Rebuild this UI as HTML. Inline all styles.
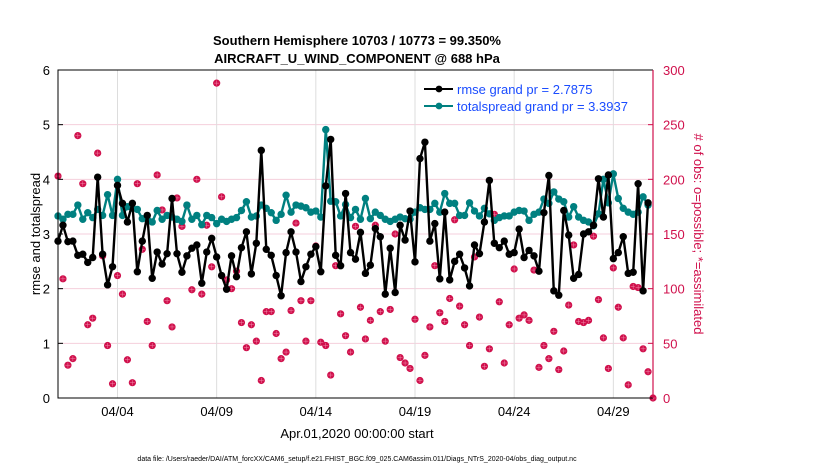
<!DOCTYPE html>
<html><head><meta charset="utf-8"><style>
body{margin:0;background:#fff;font-family:"Liberation Sans",Arial,sans-serif}
svg text{font-family:"Liberation Sans",Arial,sans-serif}
</style></head><body>
<svg id="c" width="830" height="470" viewBox="0 0 830 470">
<text x="357" y="45" text-anchor="middle" font-size="13" font-weight="bold">Southern Hemisphere 10703 / 10773 = 99.350%</text>
<text x="357" y="63" text-anchor="middle" font-size="13" font-weight="bold">AIRCRAFT_U_WIND_COMPONENT @ 688 hPa</text>
<g id="grid"></g><g id="obs"></g><g id="series"></g><g id="axes"></g>
<text transform="translate(40,234) rotate(-90)" text-anchor="middle" font-size="13">rmse and totalspread</text>
<text transform="translate(694,234) rotate(90)" text-anchor="middle" font-size="13" fill="#d0104c"># of obs: o=possible; *=assimilated</text>
<text x="357" y="438" text-anchor="middle" font-size="13">Apr.01,2020 00:00:00 start</text>
<text x="357" y="461" text-anchor="middle" font-size="7">data file: /Users/raeder/DAI/ATM_forcXX/CAM6_setup/f.e21.FHIST_BGC.f09_025.CAM6assim.011/Diags_NTrS_2020-04/obs_diag_output.nc</text>
<g>
<line x1="424" y1="89" x2="453" y2="89" stroke="#000" stroke-width="2"/><circle cx="439" cy="89" r="3.4" fill="#000"/>
<text x="457" y="94" font-size="13" fill="#1a4cff">rmse grand pr = 2.7875</text>
<line x1="424" y1="106" x2="453" y2="106" stroke="#008080" stroke-width="2"/><circle cx="439" cy="106" r="3.4" fill="#008080"/>
<text x="457" y="111" font-size="13" fill="#1a4cff">totalspread grand pr = 3.3937</text>
</g>
</svg>
<script>
const rmse=[2.87,3.16,2.86,2.87,2.61,2.63,2.48,2.57,4.04,2.63,2.07,2.40,3.89,3.56,3.22,3.56,2.31,2.87,3.34,2.19,2.67,2.45,2.64,3.65,2.64,2.30,2.60,2.74,2.80,2.10,2.67,
2.92,2.58,2.24,1.99,2.60,2.22,2.75,3.04,2.27,2.83,4.53,2.72,2.61,2.24,1.87,2.66,3.04,2.67,2.13,2.40,2.63,2.77,2.31,3.88,4.73,2.61,2.42,3.74,2.66,2.54,
3.03,2.28,2.43,3.10,2.95,1.90,2.74,1.93,3.16,2.89,3.42,2.49,4.38,4.68,2.87,3.19,2.18,3.40,2.16,2.50,2.63,2.38,2.05,2.80,2.64,3.22,3.98,2.83,2.75,2.87,
2.63,2.66,3.09,2.57,2.70,2.60,2.32,3.39,4.07,1.96,1.88,3.43,2.98,2.19,2.26,3.00,3.04,3.16,4.01,3.31,4.08,2.55,2.66,2.95,2.28,2.30,3.92,1.96,3.57];
const spread=[3.33,3.27,3.36,3.36,3.53,3.27,3.39,3.30,3.45,3.34,3.72,3.34,4.00,3.34,3.50,3.47,3.45,3.28,3.27,3.22,3.43,3.27,3.34,3.31,3.27,3.23,3.53,3.27,3.34,3.17,3.34,
3.30,3.19,3.27,3.23,3.27,3.30,3.43,3.59,3.31,3.33,3.53,3.47,3.39,3.25,3.36,3.71,3.40,3.53,3.51,3.48,3.40,3.42,3.31,4.91,3.60,3.59,3.33,3.54,3.30,3.45,
3.27,3.65,3.28,3.40,3.34,3.27,3.23,3.27,3.31,3.28,3.27,3.40,3.48,3.45,3.45,3.56,3.40,3.74,3.56,3.56,3.34,3.34,3.57,3.42,3.33,3.47,3.37,3.25,3.30,3.33,
3.33,3.40,3.43,3.42,3.25,3.36,3.40,3.64,3.56,3.77,3.64,3.59,3.31,3.50,3.31,3.25,3.22,3.15,3.37,4.00,3.57,4.10,3.65,3.47,3.40,3.36,3.40,3.68,3.53];
const obsCount=[203,109,30,36,240,196,67,73,224,130,48,13,112,95,35,14,196,136,70,48,204,172,89,65,183,157,176,99,200,95,158,
120,288,184,108,100,116,69,46,67,52,16,79,79,59,36,42,80,160,89,52,89,139,51,48,21,121,77,57,42,157,
83,54,71,158,79,52,81,150,37,32,27,72,16,39,65,121,78,70,91,163,84,67,48,129,74,29,45,168,88,32,
67,118,73,76,71,117,28,48,36,61,26,43,85,140,70,69,71,148,90,55,27,119,83,55,12,102,101,45,24,0];
const yTicks=[0,1,2,3,4,5,6];
const rTicks=[0,50,100,150,200,250,300];
const xTickDays=[3,8,13,18,23,28];
const xTickLabels=["04/04","04/09","04/14","04/19","04/24","04/29"];
const stepDays=0.25;
const L=58,R=653,T=70,B=398,NS="http://www.w3.org/2000/svg";
const X=d=>L+d*(R-L)/30, Y=v=>B-v*(B-T)/6, YR=c=>B-c*(B-T)/300;
function mk(t,a,p){const e=document.createElementNS(NS,t);for(const k in a)e.setAttribute(k,a[k]);p.appendChild(e);return e;}
const g=document.getElementById('grid'),ob=document.getElementById('obs'),se=document.getElementById('series'),ax=document.getElementById('axes');
yTicks.forEach(v=>{if(v>0&&v<6){const l=mk('line',{x1:L,x2:R,y1:Y(v),y2:Y(v),stroke:'#f5cfdc','stroke-width':1},g);

}
const t=mk('text',{x:L-8,y:Y(v)+5,'text-anchor':'end','font-size':13},ax);t.textContent=v;


mk('line',{x1:L,x2:L+5,y1:Y(v),y2:Y(v),stroke:'#000'},ax);});
rTicks.forEach(c=>{const t=mk('text',{x:R+10,y:YR(c)+5,'font-size':13,fill:'#d0104c'},ax);t.textContent=c;


mk('line',{x1:R-5,x2:R,y1:YR(c),y2:YR(c),stroke:'#d0104c'},ax);});
xTickDays.forEach((d,i)=>{const l=mk('line',{x1:X(d),x2:X(d),y1:T,y2:B,stroke:'#ddd'},g);


const t=mk('text',{x:X(d),y:416,'text-anchor':'middle','font-size':13},ax);t.textContent=xTickLabels[i];

});
const bx=mk('path',{d:`M${R},${T}H${L}V${B}H${R}`,fill:'none',stroke:'#000','stroke-width':1},ax);


const ra=mk('line',{x1:R,x2:R,y1:T,y2:B,stroke:'#d0104c','stroke-width':1.2},ax);


obsCount.forEach((c,i)=>{const x=X(i*stepDays),y=YR(c);
const gg=mk('g',{},ob);


mk('circle',{cx:x,cy:y,r:3.6,fill:'#d0104c'},gg);
mk('path',{d:`M${x-2.5},${y}H${x+2.5}M${x},${y-2.5}V${y+2.5}`,stroke:'#f08aaa','stroke-width':0.5},gg);});
function series(arr,col,name){const p=arr.map((v,i)=>`${i?'L':'M'}${X(i*stepDays).toFixed(1)},${Y(v).toFixed(1)}`).join('');
const l=mk('path',{d:p,fill:'none',stroke:col,'stroke-width':2.4,'stroke-linejoin':'round'},se);


arr.forEach((v,i)=>{const c=mk('circle',{cx:X(i*stepDays),cy:Y(v),r:3.7,fill:col},se);

});}
series(spread,'#008080','totalspread');
series(rmse,'#000','rmse');
</script>
</body></html>
